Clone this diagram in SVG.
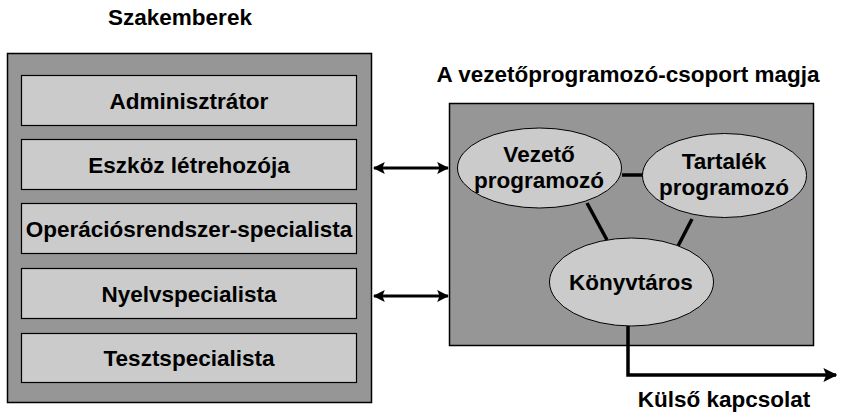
<svg xmlns="http://www.w3.org/2000/svg" width="847" height="419" viewBox="0 0 847 419">
<style>
text{font-family:"Liberation Sans",Arial,sans-serif;font-weight:bold;fill:#000;text-anchor:middle;font-size:22.5px}
.outer{fill:#969696;stroke:#000;stroke-width:1.5}
.inner{fill:#cbcbcb;stroke:#000;stroke-width:1.2}
.ell{fill:#cbcbcb;stroke:#000;stroke-width:1}
.ln{stroke:#000;stroke-width:3.5;fill:none}
</style>
<defs>
<marker id="ah" viewBox="0 0 10 10" refX="9" refY="5" markerWidth="4" markerHeight="4" orient="auto-start-reverse" markerUnits="strokeWidth">
<path d="M0,0 L10,5 L0,10 L2,5 z" fill="#000"/>
</marker>
</defs>
<text x="180" y="25">Szakemberek</text>
<text x="628" y="82">A vezetőprogramozó-csoport magja</text>
<text x="724" y="407">Külső kapcsolat</text>
<g id="szakemberek">
<rect class="outer" x="7.5" y="53.5" width="364" height="349"/>
</g>
<g id="adminisztrator"><rect class="inner" x="21.5" y="75.5" width="335" height="50"/><text x="189" y="109">Adminisztrátor</text></g>
<g id="eszkoz"><rect class="inner" x="21.5" y="139.5" width="335" height="50"/><text x="189" y="173">Eszköz létrehozója</text></g>
<g id="opr"><rect class="inner" x="21.5" y="203.5" width="335" height="50"/><text x="189" y="237">Operációsrendszer-specialista</text></g>
<g id="nyelv"><rect class="inner" x="21.5" y="268.5" width="335" height="50"/><text x="189" y="302">Nyelvspecialista</text></g>
<g id="teszt"><rect class="inner" x="21.5" y="333.5" width="335" height="49"/><text x="189" y="366">Tesztspecialista</text></g>
<g id="mag"><rect class="outer" x="449.5" y="103.5" width="364" height="242"/></g>
<g id="connectors">
<line class="ln" x1="622" y1="175" x2="643" y2="175"/>
<line class="ln" x1="587" y1="203" x2="607" y2="240"/>
<line class="ln" x1="692" y1="219" x2="678" y2="246"/>
<path class="ln" d="M628,325 V375 H836" marker-end="url(#ah)"/>
<line class="ln" x1="374" y1="168" x2="448" y2="168" style="stroke-width:3" marker-start="url(#ah)" marker-end="url(#ah)"/>
<line class="ln" x1="374" y1="296" x2="448" y2="296" style="stroke-width:3" marker-start="url(#ah)" marker-end="url(#ah)"/>
</g>
<g id="vezeto"><ellipse class="ell" cx="539.5" cy="168" rx="82" ry="40"/><text x="539" y="162">Vezető</text><text x="539" y="188">programozó</text></g>
<g id="tartalek"><ellipse class="ell" cx="724.5" cy="175.5" rx="82" ry="42"/><text x="724" y="169">Tartalék</text><text x="724" y="195">programozó</text></g>
<g id="konyvtaros"><ellipse class="ell" cx="631.5" cy="282" rx="82" ry="44"/><text x="631" y="290">Könyvtáros</text></g>
</svg>
